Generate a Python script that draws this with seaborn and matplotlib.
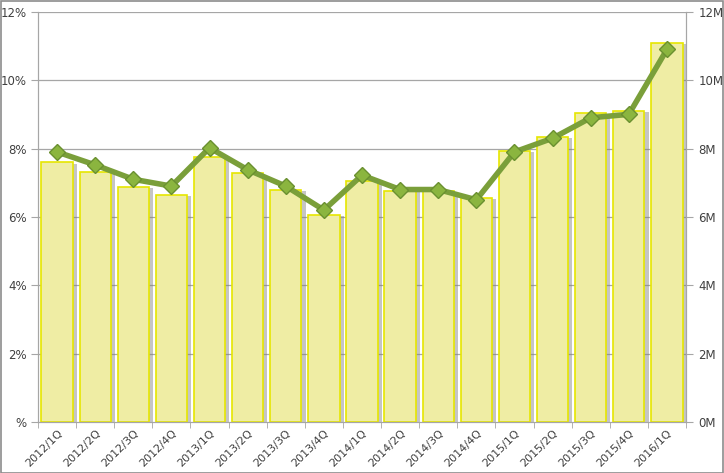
import pandas as pd
import matplotlib
matplotlib.use("Agg")
import matplotlib.pyplot as plt
import matplotlib.patheffects as pe
import seaborn as sns

# =====================================================
# DATA
# =====================================================

quarters = [
    "2012/1Q", "2012/2Q", "2012/3Q", "2012/4Q",
    "2013/1Q", "2013/2Q", "2013/3Q", "2013/4Q",
    "2014/1Q", "2014/2Q", "2014/3Q", "2014/4Q",
    "2015/1Q", "2015/2Q", "2015/3Q", "2015/4Q",
    "2016/1Q",
]

volume_m = [
    7.6, 7.3, 6.88, 6.65,
    7.76, 7.27, 6.8, 6.06,
    7.05, 6.77, 6.77, 6.56,
    7.93, 8.35, 9.03, 9.1,
    11.1,
]

rate_pct = [
    7.9, 7.52, 7.1, 6.9,
    8.02, 7.38, 6.9, 6.2,
    7.22, 6.8, 6.8, 6.5,
    7.9, 8.3, 8.9, 9.0,
    10.9,
]

left_ticks = [0, 2, 4, 6, 8, 10, 12]
left_labels = ["%", "2%", "4%", "6%", "8%", "10%", "12%"]
right_labels = ["0M", "2M", "4M", "6M", "8M", "10M", "12M"]

df = pd.DataFrame({
    "quarter": quarters,
    "volume": volume_m,
    "rate": rate_pct,
})

# =====================================================
# FIGURE
# =====================================================

sns.set_style("white")
plt.rcParams["font.family"] = ["DejaVu Sans"]

fig = plt.figure(figsize=(7.24, 4.73), dpi=100)
ax = fig.add_axes([0.0525, 0.108, 0.895, 0.867])
ax2 = ax.twinx()

grid_color = "#a6a6a6"
text_color = "#404040"

# bars on right axis (M)
sns.barplot(
    data=df, x="quarter", y="volume", ax=ax2,
    color="#efeda4", edgecolor="#e6e600", linewidth=1.2,
    width=0.82, saturation=1,
)
for bar in ax2.patches:
    bar.set_path_effects([
        pe.SimplePatchShadow(offset=(3, -1), shadow_rgbFace="#7f7f7f", alpha=0.45),
        pe.Normal(),
    ])

# line on left axis (%)
sns.lineplot(
    x=list(range(len(quarters))), y=rate_pct, ax=ax,
    color="#7a9f3a", linewidth=4, marker="D", markersize=8.5,
    markerfacecolor="#8bb53f", markeredgecolor="#6a9030", markeredgewidth=1,
)

ax.set_zorder(ax2.get_zorder() + 1)
ax.patch.set_visible(False)

for a in (ax, ax2):
    a.set_ylim(0, 12)
    a.set_xlim(-0.5, len(quarters) - 0.5)
    a.set_yticks(left_ticks)
    a.set_xlabel("")
    a.set_ylabel("")
    for s in a.spines.values():
        s.set_color(grid_color)
    a.spines["top"].set_visible(False)

ax.set_yticklabels(left_labels)
ax2.set_yticklabels(right_labels)

# gridlines behind bars
for t in left_ticks[1:]:
    ax2.axhline(t, color=grid_color, linewidth=0.9, zorder=0)

# category labels at centres, tick marks at boundaries
ax.set_xticks(range(len(quarters)))
ax.set_xticklabels(quarters, rotation=45, ha="right", rotation_mode="anchor",
                   fontsize=8, color=text_color)
ax.set_xticks([i - 0.5 for i in range(len(quarters) + 1)], minor=True)
ax.tick_params(axis="x", which="major", length=0, pad=4, bottom=True)
ax.tick_params(axis="x", which="minor", direction="out", length=4,
               color=grid_color, bottom=True)

ax.tick_params(axis="y", direction="out", length=5, color=grid_color, left=True,
               labelsize=8.5, labelcolor=text_color, pad=3)
ax2.tick_params(axis="y", direction="out", length=5, color=grid_color, right=True,
                labelsize=8.5, labelcolor=text_color, pad=4)

# outer border
fig.patches.append(plt.Rectangle((0.001, 0.001), 0.997, 0.997, transform=fig.transFigure,
                                 fill=False, edgecolor="#8c8c8c", linewidth=1.2))

fig.savefig("out.png", dpi=100)
